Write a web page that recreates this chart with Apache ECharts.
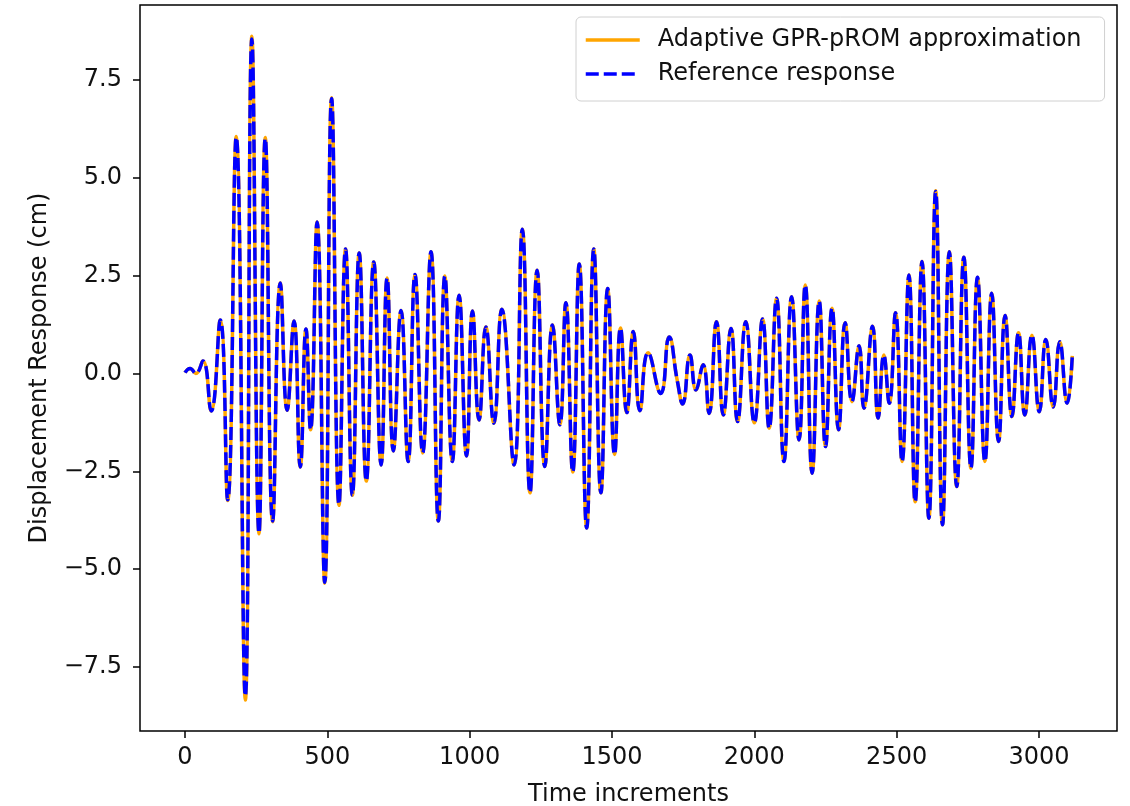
<!DOCTYPE html>
<html>
<head>
<meta charset="utf-8">
<script src="https://cdn.jsdelivr.net/npm/echarts@6/dist/echarts.min.js"></script>
<style>
  html, body { margin: 0; padding: 0; background: #fff; }
  #chart { width: 1130px; height: 806px; }
</style>
</head>
<body>
<div id="chart"></div>
<script>
// Time increments at which the response reaches its local extrema
const times = [
  0, 18, 38, 63, 92, 124, 150, 180, 212, 235, 260, 282, 308, 335, 359, 383, 405, 425, 441, 464,
  491, 515, 541, 564, 588, 612, 637, 663, 689, 710, 732, 759, 784, 808, 835, 864, 890, 913, 939, 963,
  989, 1010, 1033, 1057, 1085, 1113, 1156, 1185, 1212, 1237, 1264, 1291, 1317, 1338, 1362, 1385, 1411, 1436, 1461, 1485,
  1509, 1530, 1552, 1575, 1598, 1627, 1671, 1701, 1730, 1748, 1774, 1795, 1820, 1841, 1867, 1891, 1918, 1941, 1970, 2000,
  2029, 2052, 2078, 2104, 2131, 2157, 2179, 2203, 2228, 2250, 2273, 2296, 2319, 2343, 2368, 2385, 2415, 2435, 2455, 2474,
  2496, 2519, 2543, 2565, 2589, 2613, 2637, 2661, 2685, 2711, 2736, 2761, 2784, 2810, 2834, 2858, 2881, 2905, 2928, 2950,
  2975, 3001, 3024, 3050, 3073, 3099, 3117
];

// Reference response (cm)
const reference = [
  0.02, 0.13, 0.00, 0.32, -0.96, 1.37, -3.23, 6.04, -8.25, 8.55, -4.08, 6.01, -3.77, 2.31, -0.94, 1.34, -2.39, 1.14, -1.44, 3.87,
  -5.34, 7.03, -3.35, 3.18, -3.11, 3.08, -2.75, 2.85, -2.34, 2.44, -1.98, 1.61, -2.25, 2.53, -2.03, 3.11, -3.77, 2.49, -2.25, 2.00,
  -2.11, 1.60, -1.19, 1.19, -1.27, 1.64, -2.34, 3.69, -3.05, 2.64, -2.38, 1.24, -1.31, 1.81, -2.52, 2.80, -3.95, 3.18, -3.05, 2.17,
  -2.07, 1.16, -1.00, 1.07, -0.95, 0.53, -0.51, 0.93, -0.21, -0.78, 0.47, -0.42, 0.22, -1.02, 1.32, -1.06, 1.15, -1.23, 1.32, -1.26,
  1.39, -1.40, 1.92, -2.25, 1.96, -1.70, 2.26, -2.55, 1.85, -1.87, 1.67, -1.44, 1.30, -0.72, 0.71, -0.89, 1.21, -1.14, 0.47, -0.76,
  1.55, -2.25, 2.52, -3.28, 2.86, -3.70, 4.65, -3.87, 3.11, -2.89, 2.97, -2.42, 2.46, -2.25, 2.05, -1.74, 1.48, -1.10, 1.04, -1.06,
  0.98, -0.98, 0.87, -0.86, 0.81, -0.76, 0.45
];

// Adaptive GPR-pROM approximation (cm)
const approx = [
  0.02, 0.13, 0.00, 0.32, -0.96, 1.37, -3.25, 6.06, -8.35, 8.62, -4.10, 6.03, -3.79, 2.31, -0.94, 1.34, -2.39, 1.14, -1.44, 3.87,
  -5.36, 7.05, -3.37, 3.18, -3.11, 3.08, -2.75, 2.85, -2.34, 2.44, -1.98, 1.61, -2.25, 2.53, -2.03, 3.11, -3.77, 2.49, -2.25, 2.00,
  -2.11, 1.60, -1.19, 1.19, -1.27, 1.64, -2.34, 3.69, -3.05, 2.64, -2.38, 1.24, -1.31, 1.81, -2.52, 2.80, -3.95, 3.18, -3.05, 2.17,
  -2.07, 1.16, -1.00, 1.07, -0.95, 0.53, -0.51, 0.93, -0.21, -0.78, 0.47, -0.42, 0.22, -1.02, 1.32, -1.06, 1.15, -1.23, 1.32, -1.26,
  1.39, -1.40, 1.92, -2.25, 1.96, -1.70, 2.26, -2.55, 1.85, -1.87, 1.67, -1.44, 1.30, -0.72, 0.71, -0.89, 1.21, -1.14, 0.47, -0.76,
  1.55, -2.25, 2.52, -3.28, 2.86, -3.70, 4.67, -3.87, 3.11, -2.89, 2.97, -2.42, 2.46, -2.25, 2.05, -1.74, 1.48, -1.10, 1.04, -1.06,
  0.98, -0.98, 0.87, -0.86, 0.81, -0.76, 0.45
];

const xTicks = [0, 500, 1000, 1500, 2000, 2500, 3000];
const yTicks = [-7.5, -5.0, -2.5, 0.0, 2.5, 5.0, 7.5];
const seriesNames = ['Adaptive GPR-pROM approximation', 'Reference response'];
const axisTitles = { x: 'Time increments', y: 'Displacement Response (cm)' };

const FONT = "'DejaVu Sans', sans-serif";
const chart = echarts.init(document.getElementById('chart'), null, { renderer: 'canvas' });

const fmtY = v => (v < 0 ? '\u2212' : '') + Math.abs(v).toFixed(1);

chart.setOption({
  animation: false,
  backgroundColor: '#ffffff',
  textStyle: { fontFamily: FONT },
  grid: {
    left: 140, right: 13, top: 5, bottom: 75,
    outerBoundsMode: 'none',
    containLabel: false,
    show: true, borderColor: '#000', borderWidth: 1.5, backgroundColor: 'transparent'
  },
  legend: {
    data: seriesNames,
    orient: 'vertical',
    left: 576,
    top: 17,
    itemWidth: 54,
    itemHeight: 14,
    itemGap: 8,
    padding: [10, 23, 14, 8],
    borderColor: '#d0d0d0',
    borderWidth: 1,
    borderRadius: 5,
    backgroundColor: 'rgba(255,255,255,0.8)',
    itemStyle: { opacity: 0 },
    lineStyle: { width: 3.5 },
    textStyle: { fontFamily: FONT, fontSize: 24, color: '#111', lineHeight: 26, padding: [0, 0, 0, 13] },
    selectedMode: false
  },
  xAxis: {
    type: 'value',
    min: -158,
    max: 3274,
    name: axisTitles.x,
    nameLocation: 'middle',
    nameGap: 52,
    nameTextStyle: { fontFamily: FONT, fontSize: 24, color: '#111' },
    axisLine: { show: false, onZero: false },
    splitLine: { show: false },
    axisTick: { show: true, length: 7, customValues: xTicks, lineStyle: { color: '#000', width: 1.5 } },
    axisLabel: {
      customValues: xTicks,
      margin: 15,
      fontFamily: FONT, fontSize: 24, color: '#111',
      formatter: v => String(v)
    }
  },
  yAxis: {
    type: 'value',
    min: -9.14,
    max: 9.42,
    name: axisTitles.y,
    nameLocation: 'middle',
    nameGap: 88,
    nameRotate: 90,
    nameTextStyle: { fontFamily: FONT, fontSize: 24, color: '#111' },
    axisLine: { show: false, onZero: false },
    splitLine: { show: false },
    axisTick: { show: true, length: 7, customValues: yTicks, lineStyle: { color: '#000', width: 1.5 } },
    axisLabel: {
      customValues: yTicks,
      margin: 18,
      fontFamily: FONT, fontSize: 24, color: '#111',
      formatter: fmtY
    }
  },
  series: [
    {
      name: seriesNames[0],
      type: 'line',
      data: times.map((t, i) => [t, approx[i]]),
      smooth: 0.5,
      symbol: 'none',
      showSymbol: false,
      lineStyle: { color: '#FFA500', width: 3.5, type: 'solid' },
      itemStyle: { color: '#FFA500' },
      z: 2
    },
    {
      name: seriesNames[1],
      type: 'line',
      data: times.map((t, i) => [t, reference[i]]),
      smooth: 0.5,
      symbol: 'none',
      showSymbol: false,
      lineStyle: { color: '#0000FF', width: 3.5, type: [13, 5] },
      itemStyle: { color: '#0000FF' },
      z: 3
    }
  ]
});
</script>
</body>
</html>
